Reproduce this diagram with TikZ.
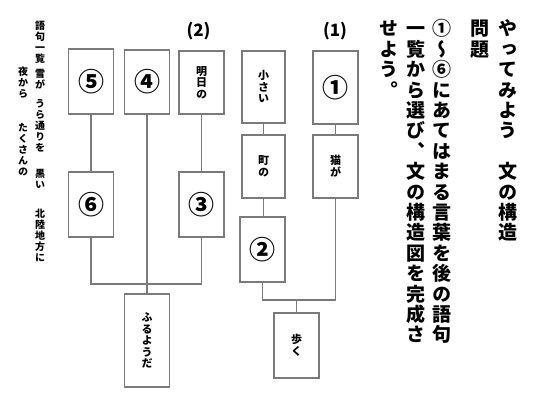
\documentclass[tikz,border=0pt]{standalone}
\usepackage{fontspec}
\newfontfamily\jp{Noto Sans CJK JP}
\newfontfamily\jpv{Noto Sans CJK JP}[RawFeature=+vert]
\definecolor{linegray}{HTML}{7A7A7A}
\newcommand\vsp{\hphantom{あ}}
\newcommand\vcolloop[1]{\ifx\relax#1\else\hbox to 1em{\hss\vrule height .88em depth .12em width 0pt #1\hss}\expandafter\vcolloop\fi}
\newcommand\vtxt[2]{\vbox{\baselineskip=#1\lineskiplimit=-100pt\lineskip=0pt\vcolloop#2\relax}}
\tikzset{
  box/.style={draw=linegray, line width=1.8pt, minimum width=45pt, inner sep=0pt, fill=white},
  conn/.style={draw=linegray, line width=1.8pt},
  head/.style={anchor=north, inner sep=0pt, font=\jpv\bfseries\fontsize{19}{20}\selectfont},
  words/.style={anchor=north, inner sep=0pt, font=\jpv\bfseries\fontsize{10}{11}\selectfont},
  small/.style={font=\jpv\bfseries\fontsize{11}{11}\selectfont},
  circ/.style={font=\jp\bfseries\fontsize{26}{26}\selectfont},
  lab/.style={inner sep=0pt, font=\jp\bfseries\fontsize{17}{17}\selectfont}
}
\begin{document}
\begin{tikzpicture}[x=1pt,y=-1pt]
\fill[white] (0,0) rectangle (540,408);
\useasboundingbox (0,0) rectangle (540,408);
% header text
\node[head] (tA) at (508,19) {\vtxt{20.4pt}{やってみよう\vsp 文の構造}};
\node[head] (tB) at (480,19) {\vtxt{20.4pt}{問題}};
\node[head] (tC) at (442,19) {\vtxt{20.4pt}{①～⑥にあてはまる言葉を後の語句}};
\node[head] (tD) at (416,19) {\vtxt{20.4pt}{一覧から選び、文の構造図を完成さ}};
\node[head] (tE) at (389,19) {\vtxt{20.4pt}{せよう。}};
% word list
\node[words] (w0) at (40,20) {\vtxt{11pt}{語句一覧}};
\node[words] (w1) at (40,68) {\vtxt{11pt}{雪が}};
\node[words] (w2) at (40,98) {\vtxt{11pt}{うら通りを}};
\node[words] (w3) at (40,168) {\vtxt{11pt}{黒い}};
\node[words] (w4) at (40,208) {\vtxt{11pt}{北陸地方に}};
\node[words] (w5) at (23,66) {\vtxt{11pt}{夜から}};
\node[words] (w6) at (23,122) {\vtxt{11pt}{たくさんの}};
% group (2)
\node[lab] (lab2) at (198.5,31) {(2)};
\node[box, circ, minimum height=65pt] (b5) at (91,81.5) {⑤};
\node[box, circ, minimum height=64pt] (b4) at (147,82) {④};
\node[box, small, minimum height=63pt] (asu) at (201.5,82.5) {\vtxt{11.5pt}{明日の}};
\node[box, circ, minimum height=65pt] (b6) at (91,204.5) {⑥};
\node[box, circ, minimum height=65pt] (b3) at (201.5,204.5) {③};
\node[box, small, minimum height=93pt] (furu) at (147,340.5) {\vtxt{11.5pt}{ふるようだ}};
\coordinate (j2) at (147,284);
\draw[conn] (b5) -- (b6);
\draw[conn] (asu) -- (b3);
\draw[conn] (b6.south) |- (j2) -| (b3.south);
\draw[conn] (b4) -- (furu);
% group (1)
\node[lab] (lab1) at (335,31) {(1)};
\node[box, small, minimum width=43pt, minimum height=72pt] (chii) at (263.5,87) {\vtxt{11.5pt}{小さい}};
\node[box, small, minimum width=43pt, minimum height=63pt] (machi) at (263.5,166.5) {\vtxt{11.5pt}{町の}};
\node[box, circ, minimum height=65pt] (b2) at (262.5,249.5) {②};
\node[box, circ, minimum height=73pt] (b1) at (335.5,87.5) {①};
\node[box, small, minimum height=63pt] (neko) at (335.5,166.5) {\vtxt{11.5pt}{猫が}};
\node[box, small, minimum height=65pt] (aruku) at (296.5,345.5) {\vtxt{11.5pt}{歩く}};
\coordinate (j1) at (296.5,300);
\draw[conn] (chii) -- (machi);
\draw[conn] (machi.south) -- (machi.south |- b2.north);
\draw[conn] (b1) -- (neko);
\draw[conn] (b2.south) |- (j1) -| (neko.south);
\draw[conn] (j1) -- (aruku);
\end{tikzpicture}
\end{document}
